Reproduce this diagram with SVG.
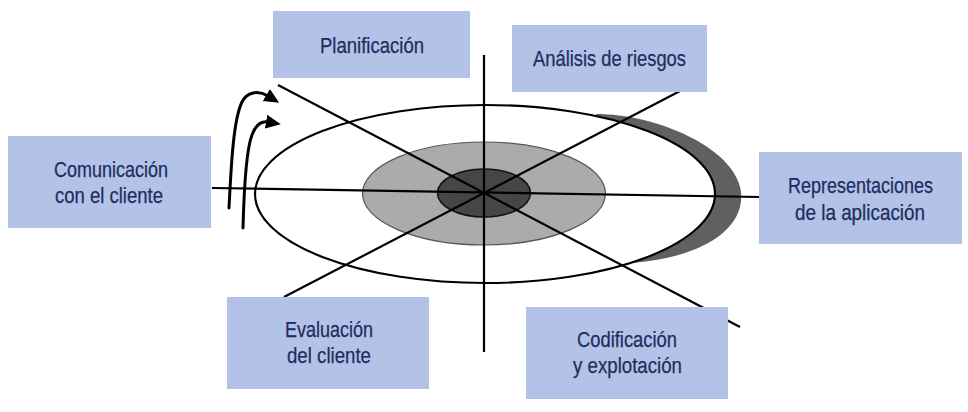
<svg xmlns="http://www.w3.org/2000/svg" width="968" height="412" viewBox="0 0 968 412">
<style>
.box{fill:#b3c2e7;}
.lbl{font-family:"Liberation Sans",Arial,sans-serif;font-size:22px;fill:#1e2d5e;stroke:#1e2d5e;stroke-width:0.25;text-anchor:middle;}
.ax{stroke:#000;stroke-width:2.2;fill:none;}
.arr{stroke:#000;stroke-width:3;fill:none;stroke-linecap:round;}
</style>
<defs>
<marker id="ah" markerUnits="userSpaceOnUse" markerWidth="18" markerHeight="16" refX="2" refY="7" orient="auto">
<path d="M0,0 L15,7 L0,14 Z" fill="#000"/>
</marker>
</defs>
<rect width="968" height="412" fill="#fff"/>
<g id="spiral">
<path d="M596,114 C655,114 735,147 741,192 C745,230 700,258 630,263 Z" fill="#606060"/>
<ellipse cx="485" cy="194" rx="230" ry="89" fill="#fff" stroke="#000" stroke-width="2.2"/>
<ellipse cx="484" cy="193.5" rx="121.5" ry="51.5" fill="#ababab" stroke="#555" stroke-width="1.2"/>
<ellipse cx="484" cy="193" rx="46.5" ry="24" fill="#464646" stroke="#111" stroke-width="1.5"/>
</g>
<g id="connectors">
<line class="ax" x1="484" y1="55" x2="484" y2="352"/>
<line class="ax" x1="212" y1="188" x2="760" y2="197"/>
<line class="ax" x1="278" y1="85" x2="740" y2="327"/>
<line class="ax" x1="682" y1="90" x2="284" y2="297"/>
<path class="arr" d="M229,208 C231,170 233,120 242,102 C247,92 258,90 268,96" marker-end="url(#ah)"/>
<path class="arr" d="M243,228 C244,190 246,150 252,135 C256,124 262,121 268,122" marker-end="url(#ah)"/>
</g>
<g id="planificacion">
<rect class="box" x="273" y="11" width="197" height="67"/>
<text class="lbl" x="372" y="53" textLength="104" lengthAdjust="spacingAndGlyphs">Planificación</text>
</g>
<g id="analisis">
<rect class="box" x="512" y="25" width="195" height="67"/>
<text class="lbl" x="609.5" y="66" textLength="153" lengthAdjust="spacingAndGlyphs">Análisis de riesgos</text>
</g>
<g id="comunicacion">
<rect class="box" x="8" y="136" width="203" height="92"/>
<text class="lbl" x="111" y="177" textLength="114" lengthAdjust="spacingAndGlyphs">Comunicación</text>
<text class="lbl" x="109" y="203" textLength="108" lengthAdjust="spacingAndGlyphs">con el cliente</text>
</g>
<g id="representaciones">
<rect class="box" x="759" y="152" width="203" height="92"/>
<text class="lbl" x="860.5" y="193" textLength="145" lengthAdjust="spacingAndGlyphs">Representaciones</text>
<text class="lbl" x="860" y="220" textLength="130" lengthAdjust="spacingAndGlyphs">de la aplicación</text>
</g>
<g id="evaluacion">
<rect class="box" x="227" y="297" width="202" height="92"/>
<text class="lbl" x="329" y="337" textLength="88" lengthAdjust="spacingAndGlyphs">Evaluación</text>
<text class="lbl" x="329" y="363" textLength="84" lengthAdjust="spacingAndGlyphs">del cliente</text>
</g>
<g id="codificacion">
<rect class="box" x="526" y="307" width="202" height="92"/>
<text class="lbl" x="627" y="347" textLength="100" lengthAdjust="spacingAndGlyphs">Codificación</text>
<text class="lbl" x="627.5" y="373" textLength="109" lengthAdjust="spacingAndGlyphs">y explotación</text>
</g>
</svg>
